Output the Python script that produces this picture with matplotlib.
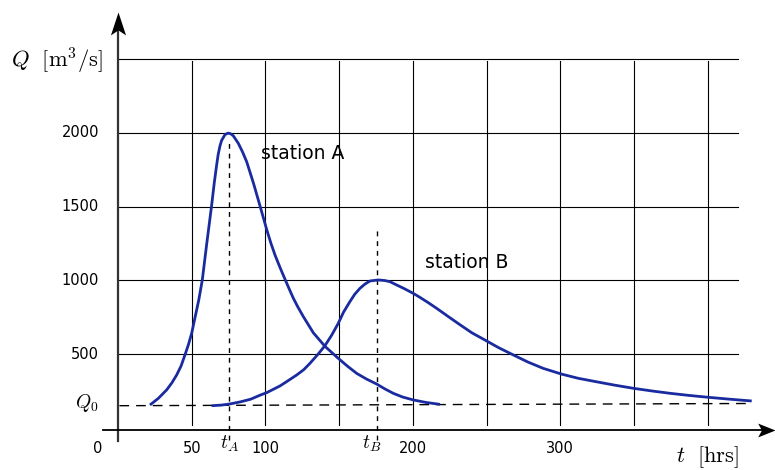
import numpy as np
import matplotlib.pyplot as plt
from matplotlib.path import Path

plt.rcParams['mathtext.fontset'] = 'cm'

# hydrograph at station A (t in hrs, Q in m3/s)
tA = [21.7, 27.4, 33, 36.5, 39.8, 42.8, 45.4, 47.8, 50, 52.3, 54.8, 57.2, 60.1, 63.5,
      65.3, 66.9, 68, 69.2, 70.3, 72.6, 74.8, 76.5, 78.2, 81.6, 84.5, 87.3, 92, 96.3,
      101, 103.8, 106.5, 110, 113.3, 116, 118.9, 122, 125.7, 132.5, 140.4, 149.4, 155.5,
      161.9, 168.5, 175.4, 181, 186.7, 193, 200.3, 209, 218.4]
QA = [156, 201, 258, 305, 359, 420, 494, 565, 642, 750, 867, 1003, 1240, 1506,
      1660, 1780, 1855, 1912, 1948, 1988, 1998, 1993, 1980, 1929, 1870, 1804, 1655, 1506,
      1340, 1250, 1172, 1085, 1008, 945, 880, 820, 755, 645, 553, 472, 420,
      370, 332, 298, 265, 235, 210, 190, 173, 160]

# hydrograph at station B
tB = [63.5, 70, 76, 83, 90, 96.3, 101, 109.9, 115, 121.2, 126, 130.2, 135.7, 140.4,
      145, 149.4, 153, 157.3, 160.5, 164.1, 167.5, 170.9, 176.5, 181, 184.5, 189, 194,
      200.3, 204.8, 210, 216.1, 225, 231.9, 240, 248.9, 258, 268.1, 278, 288.4, 300.9,
      312, 324.6, 337, 349.5, 362, 374.4, 387, 400.3, 415, 429.8]
QB = [151, 155, 163, 177, 195, 222, 240, 285, 318, 359, 395, 438, 500, 558,
      630, 709, 785, 856, 905, 946, 975, 996, 1003, 999, 991, 969, 945,
      912, 885, 852, 811, 748, 700, 645, 596, 545, 495, 447, 404, 365,
      337, 313, 290, 269, 251, 235, 221, 208, 195, 183]

Q0_left, Q0_right = 151, 166
t_peakA = 75.3
t_peakB = 176
xgrid = [50, 100, 150, 200, 250, 300, 350, 400]
ygrid = [500, 1000, 1500, 2000, 2500]
ytick_labels = ['500', '1000', '1500', '2000']
xtick_vals = [0, 50, 100, 200, 300]

blue = '#1a2ba0'

fig = plt.figure(figsize=(7.75, 4.7), dpi=100)
ax = fig.add_axes([0, 0, 1, 1])
ax.set_xlim(-80, 445.6)
ax.set_ylim(-284.6, 2899.7)
ax.axis('off')

# grid
for x in xgrid:
    ax.plot([x, x], [20, 2487], color='black', lw=0.8)
for y in ygrid:
    ax.plot([0, 420.5], [y, y], color='black', lw=0.8)

# Q0 baseline and peak markers
ax.plot([1, 429], [Q0_left, Q0_right], color='black', lw=1.0, ls=(0, (7, 5)))
ax.plot([t_peakA, t_peakA], [-80, 1950], color='black', lw=1.0, ls=(0, (3.5, 3.5)))
ax.plot([t_peakB, t_peakB], [-80, 1345], color='black', lw=1.0, ls=(0, (3.5, 3.5)))

# curves
ax.plot(tA, QA, color=blue, lw=2.0, solid_capstyle='butt', solid_joinstyle='round')
ax.plot(tB, QB, color=blue, lw=2.0, solid_capstyle='butt', solid_joinstyle='round')

# axes with stealth arrow heads
up_head = Path([(0, 0), (-0.33, -1), (0, -0.78), (0.33, -1), (0, 0)],
               [Path.MOVETO, Path.LINETO, Path.LINETO, Path.LINETO, Path.CLOSEPOLY])
right_head = Path([(0, 0), (-1, 0.4), (-0.78, 0), (-1, -0.4), (0, 0)],
                  [Path.MOVETO, Path.LINETO, Path.LINETO, Path.LINETO, Path.CLOSEPOLY])

ax.plot([0, 0], [-88, 2700], color='#333333', lw=1.6)
ax.plot([0], [2818], marker=up_head, ms=33, color='black', mew=0)
ax.plot([-10, 440], [-14, -14], color='black', lw=1.3)
ax.plot([445.6], [-14], marker=right_head, ms=25, color='black', mew=0, clip_on=False)

# tick labels
for v, s in zip(ygrid[:4], ytick_labels):
    ax.text(-12.9, v, s, ha='right', va='center', fontsize=10.5)
for v in xtick_vals:
    xx = -13.6 if v == 0 else v
    ax.text(xx, -142, str(v), ha='center', va='center', fontsize=10.5)

ax.text(-12.9, 169, r'$Q_0$', ha='right', va='center', fontsize=14)
ax.text(t_peakA, -108, r'$t_A$', ha='center', va='center', fontsize=14)
ax.text(t_peakB - 3.7, -108, r'$t_B$', ha='center', va='center', fontsize=14)
ax.text(-41.4, 2490, r'$Q\ \ [\mathrm{m}^3/\mathrm{s}]$', ha='center', va='center', fontsize=16.2)
ax.text(400, -196, r'$t\ \ [\mathrm{hrs}]$', ha='center', va='center', fontsize=16.2)

ax.text(125.5, 1863, 'station A', ha='center', va='center', fontsize=13.5)
ax.text(236.7, 1118, 'station B', ha='center', va='center', fontsize=13.5)

fig.savefig('out.png', dpi=100)
